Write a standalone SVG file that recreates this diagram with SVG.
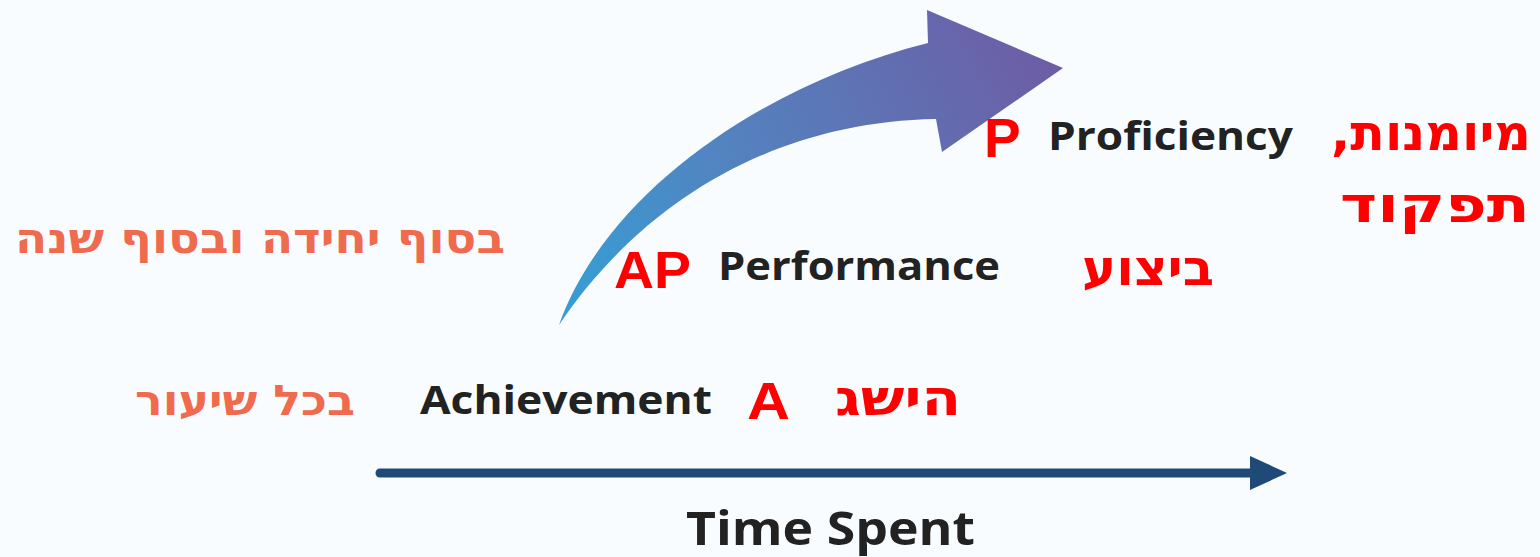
<svg xmlns="http://www.w3.org/2000/svg" width="1540" height="557" viewBox="0 0 1540 557">
<style>
.en{font-family:"Open Sans","Liberation Sans",sans-serif;font-weight:bold;fill:#222;font-size:40px}
.red{font-family:"Liberation Sans","DejaVu Sans",sans-serif;font-weight:bold;fill:#ff0000;font-size:52px}
.he{font-family:"DejaVu Sans","Liberation Sans",sans-serif;font-weight:bold;fill:#ff0000;font-size:50px;direction:rtl}
.co{font-family:"DejaVu Sans","Liberation Sans",sans-serif;font-weight:bold;fill:#f06a4e;font-size:42px;direction:rtl}
</style>
<defs>
<linearGradient id="g" x1="560" y1="320" x2="1060" y2="60" gradientUnits="userSpaceOnUse">
<stop offset="0" stop-color="#359fd6"/>
<stop offset="0.4" stop-color="#5383bf"/>
<stop offset="1" stop-color="#6e5ca5"/>
</linearGradient>
</defs>
<rect width="1540" height="557" fill="#f9fcfe"/>
<g id="growth-arrow">
<path d="M559,325 C605,195 760,85 928,43 L927,10 L1063,68 L942,152 L936,119 C770,122 640,205 559,325 Z" fill="url(#g)"/>
</g>
<g id="connectors">
<line x1="380" y1="473" x2="1255" y2="473" stroke="#1f4a78" stroke-width="9" stroke-linecap="round"/>
<polygon points="1250,456 1287,473 1250,490" fill="#1f4a78"/>
</g>
<g id="proficiency">
<text class="red" x="984" y="157" style="font-size:55px">P</text>
<text class="en" x="1048" y="150" textLength="245" lengthAdjust="spacingAndGlyphs">Proficiency</text>
<text class="he" x="1431" y="150" text-anchor="middle" textLength="200" lengthAdjust="spacingAndGlyphs">מיומנות,</text>
<text class="he" x="1435" y="222" text-anchor="middle" textLength="190" lengthAdjust="spacingAndGlyphs">תפקוד</text>
</g>
<g id="performance">
<text class="red" x="614" y="288" textLength="77" lengthAdjust="spacingAndGlyphs">AP</text>
<text class="en" x="718" y="280" textLength="282" lengthAdjust="spacingAndGlyphs">Performance</text>
<text class="he" x="1148" y="285" text-anchor="middle" textLength="132" lengthAdjust="spacingAndGlyphs">ביצוע</text>
<text class="co" x="260" y="253" text-anchor="middle" textLength="490" lengthAdjust="spacingAndGlyphs">בסוף יחידה ובסוף שנה</text>
</g>
<g id="achievement">
<text class="co" x="245" y="415" text-anchor="middle" textLength="220" lengthAdjust="spacingAndGlyphs">בכל שיעור</text>
<text class="en" x="420" y="414" textLength="292" lengthAdjust="spacingAndGlyphs">Achievement</text>
<text class="red" x="747" y="419" textLength="43" lengthAdjust="spacingAndGlyphs">A</text>
<text class="he" x="898" y="415" text-anchor="middle" textLength="126" lengthAdjust="spacingAndGlyphs">הישג</text>
</g>
<g id="time-label">
<text class="en" x="686" y="545" style="font-size:46px" textLength="289" lengthAdjust="spacingAndGlyphs">Time Spent</text>
</g>
</svg>
